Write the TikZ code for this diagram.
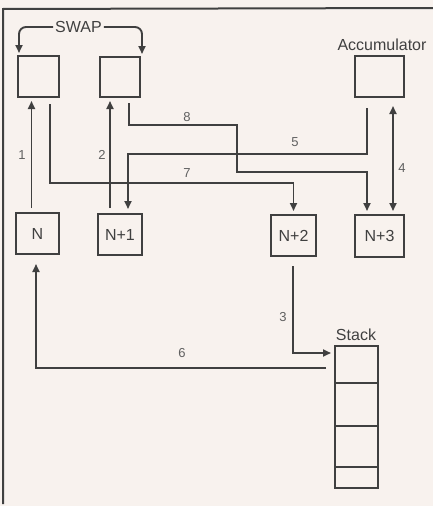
\documentclass[tikz,border=0pt]{standalone}
\usepackage{fontspec}
\setmainfont{Liberation Sans}
\usetikzlibrary{arrows.meta,calc}
\definecolor{bgc}{HTML}{F8F2EE}
\definecolor{ink}{HTML}{404040}
\definecolor{lbl}{HTML}{606060}
\tikzset{
  box/.style={draw=ink, line width=2pt, inner sep=0pt, font=\fontsize{16}{16}\selectfont, text=ink},
  wire/.style={draw=ink, line width=1.9pt},
  arr/.style={wire, -{Triangle[length=8pt,width=7pt]}},
  darr/.style={wire, {Triangle[length=8pt,width=7pt]}-{Triangle[length=8pt,width=7pt]}},
  num/.style={text=lbl, font=\fontsize{13}{13}\selectfont},
  title/.style={text=ink, font=\fontsize{16}{16}\selectfont}
}
\begin{document}
\begin{tikzpicture}[x=1pt,y=-1pt]
\fill[bgc] (0,0) rectangle (433,506);
\useasboundingbox (0,0) rectangle (433,506);
% frame
\draw[ink, line width=2pt] (3,504) -- (3,9) -- (433,8);
% boxes
\node[box, minimum width=41pt, minimum height=41pt] (sw1) at (38.5,76.5) {};
\node[box, minimum width=40pt, minimum height=40pt] (sw2) at (120,77) {};
\node[box, minimum width=49pt, minimum height=41pt] (acc) at (379.5,76.5) {};
\node[box, minimum width=43pt, minimum height=41pt] (n0) at (37.5,233.5) {N};
\node[box, minimum width=44pt, minimum height=41pt] (n1) at (120,234.5) {N+1};
\node[box, minimum width=45pt, minimum height=41pt] (n2) at (293.5,235.5) {N+2};
\node[box, minimum width=49pt, minimum height=42pt] (n3) at (379.5,236) {N+3};
\node[box, minimum width=43pt, minimum height=37pt] (s1) at (356.5,364.5) {};
\node[box, minimum width=43pt, minimum height=43pt] (s2) at (356.5,404.5) {};
\node[box, minimum width=43pt, minimum height=41pt] (s3) at (356.5,446.5) {};
\node[box, minimum width=43pt, minimum height=21pt] (s4) at (356.5,477.5) {};
% titles
\node[title] (accl) at (382,45) {Accumulator};
\node[title] (stkl) at (356,335) {Stack};
\node[title, inner sep=2pt] (swap) at (78.5,27) {SWAP};
% swap arrows
\draw[arr, rounded corners=7pt, shorten >=2pt] (swap.west) -| ([xshift=-19.5pt]sw1.north);
\draw[arr, rounded corners=7pt, shorten >=2pt] (swap.east) -| ([xshift=22pt]sw2.north);
% helper coordinates
\coordinate (c8a) at (237,125);
\coordinate (c8b) at (237,172);
\coordinate (c5) at (128,154);
\coordinate (c7) at (0,183);
\coordinate (n1a) at ([xshift=8pt]n1.north);
\coordinate (n3a) at ([xshift=-12.5pt]n3.north);
% 1
\draw[arr, shorten <=4pt, shorten >=3pt] ([xshift=-6pt]n0.north) -- ([xshift=-6pt]n0.north |- sw1.south);
% 2
\draw[arr, shorten <=5pt, shorten >=3pt] ([xshift=-10pt]n1.north) -- ([xshift=-10pt]n1.north |- sw2.south);
% 7
\draw[arr, shorten <=6pt, shorten >=3pt] ([xshift=11.5pt]sw1.south) |- (c7 -| n2.north) -- (n2.north);
% 8
\draw[arr, shorten <=5pt, shorten >=3pt] ([xshift=9pt]sw2.south) |- (c8a) -- (c8b) -| (n3a);
% 5
\draw[arr, shorten <=10pt, shorten >=4pt] ([xshift=-12.5pt]acc.south) |- (c5) -- (n1a);
% 4
\draw[darr, shorten <=3pt, shorten >=8pt] ([xshift=13.5pt]n3.north) -- ([xshift=13.5pt]n3.north |- acc.south);
% 3
\draw[arr, shorten <=9pt, shorten >=3pt] ([xshift=-0.5pt]n2.south) |- ([yshift=11.5pt]s1.west);
% 6
\draw[arr, shorten <=8pt, shorten >=9pt] ([yshift=-3.5pt]s1.west) -| ([xshift=-1.5pt]n0.south);
% labels
\node[num] (l1) at (22,155) {1};
\node[num] (l2) at (102,155) {2};
\node[num] (l3) at (283,317) {3};
\node[num] (l4) at (402,168) {4};
\node[num] (l5) at (295,142) {5};
\node[num] (l6) at (182,353) {6};
\node[num] (l7) at (187,173) {7};
\node[num] (l8) at (187,117) {8};
\end{tikzpicture}
\end{document}
